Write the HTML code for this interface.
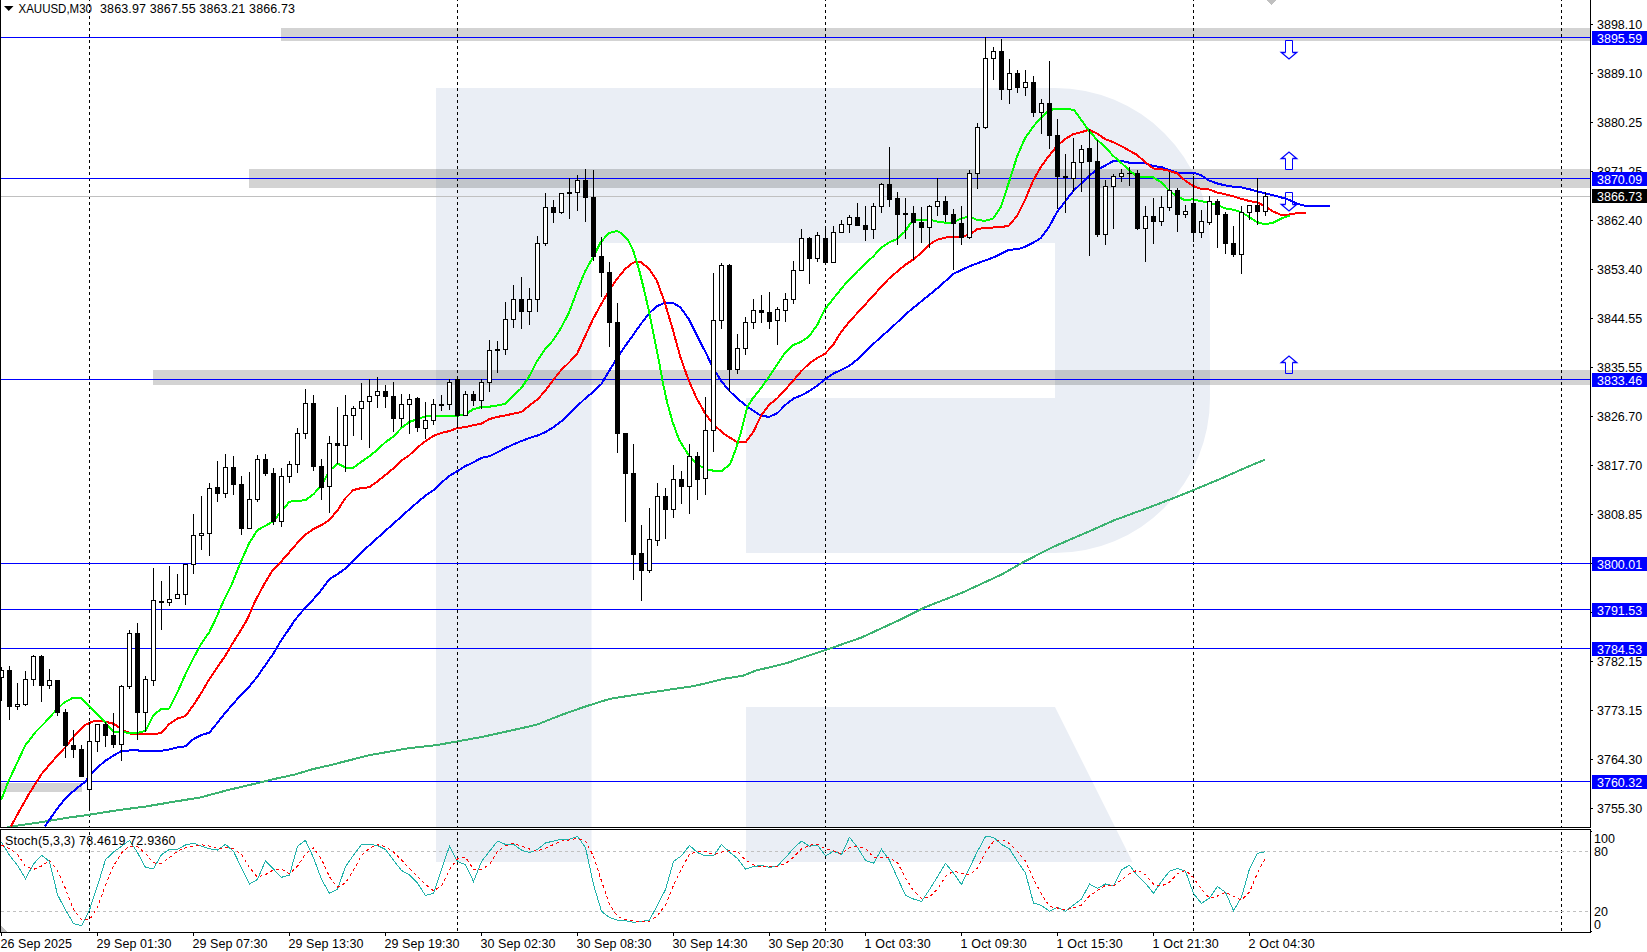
<!DOCTYPE html><html><head><meta charset="utf-8"><title>XAUUSD M30</title><style>html,body{margin:0;padding:0;background:#fff}body{width:1647px;height:952px;overflow:hidden}</style></head><body><svg width="1647" height="952" viewBox="0 0 1647 952" style="display:block;font-family:'Liberation Sans',sans-serif;font-size:12.5px">
<defs><clipPath id="cm"><rect x="1" y="0" width="1589" height="827"/></clipPath><clipPath id="ci"><rect x="1" y="830" width="1589" height="102"/></clipPath></defs>
<rect x="0" y="0" width="1647" height="952" fill="#fff"/>
<g fill="#eaeef5"><path d="M436,88 H1055 A155,155 0 0 1 1210,243 V398 A155,155 0 0 1 1055,553 H746 V398 H1055 V243 H591.5 V862 H436 Z"/><path d="M746,707 H1055 L1132.5,862 H746 Z"/></g>
<g shape-rendering="crispEdges">
<rect x="281" y="28" width="1309" height="13" fill="rgba(0,0,0,0.173)"/>
<rect x="249" y="169" width="1341" height="19" fill="rgba(0,0,0,0.173)"/>
<rect x="153" y="370" width="1437" height="15" fill="rgba(0,0,0,0.173)"/>
<rect x="1" y="783" width="81" height="9" fill="rgba(0,0,0,0.173)"/>
<path d="M1266,0 H1276 L1271,5 Z" fill="#c0c0c0"/>
<line x1="89.5" y1="0" x2="89.5" y2="932" stroke="#000" stroke-width="1" stroke-dasharray="3,3" stroke-dashoffset="2"/>
<line x1="457.5" y1="0" x2="457.5" y2="932" stroke="#000" stroke-width="1" stroke-dasharray="3,3" stroke-dashoffset="2"/>
<line x1="825.5" y1="0" x2="825.5" y2="932" stroke="#000" stroke-width="1" stroke-dasharray="3,3" stroke-dashoffset="2"/>
<line x1="1193.5" y1="0" x2="1193.5" y2="932" stroke="#000" stroke-width="1" stroke-dasharray="3,3" stroke-dashoffset="2"/>
<line x1="1561.5" y1="0" x2="1561.5" y2="932" stroke="#000" stroke-width="1" stroke-dasharray="3,3" stroke-dashoffset="2"/>
<rect x="1" y="196" width="1589" height="1" fill="#c0c0c0"/>
<rect x="1" y="37" width="1589" height="1" fill="#0000ff"/>
<rect x="1" y="178" width="1589" height="1" fill="#0000ff"/>
<rect x="1" y="379" width="1589" height="1" fill="#0000ff"/>
<rect x="1" y="563" width="1589" height="1" fill="#0000ff"/>
<rect x="1" y="609" width="1589" height="1" fill="#0000ff"/>
<rect x="1" y="648" width="1589" height="1" fill="#0000ff"/>
<rect x="1" y="781" width="1589" height="1" fill="#0000ff"/>
</g>
<g clip-path="url(#cm)" fill="none" stroke-width="2" stroke-linejoin="round" shape-rendering="crispEdges">
<polyline points="7.0,827.6 10.9,826.5 36.4,822.9 63.8,818.3 89.3,814.7 118.4,810.1 145.7,806.5 173.0,801.9 200.4,797.4 227.7,790.1 255.0,783.7 273.2,779.2 295.0,774.5 312.6,769.2 330.4,765.1 369.8,755.1 409.3,748.1 436.6,745.1 457.3,741.4 482.1,736.9 512.5,730.2 536.8,724.7 561.1,715.0 585.4,706.5 609.7,698.9 634.0,695.0 664.3,690.4 694.7,685.9 725.0,678.6 743.2,675.6 755.4,670.7 785.7,663.4 800.0,658.6 825.5,650.1 862.0,637.3 901.4,619.1 925.7,607.0 962.2,592.7 1001.6,574.5 1022.9,562.3 1053.2,546.9 1089.7,531.1 1113.9,520.4 1144.3,509.2 1174.7,497.7 1193.5,490.1 1220.2,478.9 1244.5,468.2 1264.8,459.7" stroke="#3cb371" />
<polyline points="44.8,826.6 56.8,809.1 65.6,798.1 75.4,789.4 85.2,781.7 94.0,770.8 104.9,761.0 113.7,755.5 121.3,751.1 131.1,750.3 145.4,750.7 161.7,750.7 169.4,749.4 177.5,747.4 185.4,746.3 193.4,739.1 201.1,735.2 209.4,732.6 217.5,722.7 225.1,712.9 232.8,704.2 240.4,695.4 249.2,686.7 256.8,677.3 265.6,664.8 273.2,653.9 280.9,640.8 288.5,629.8 295.1,619.8 305.6,607.2 313.7,598.9 321.3,590.1 329.4,579.2 337.5,574.2 345.6,568.3 353.4,560.6 360.0,553.6 412.4,506.6 425.5,495.6 433.4,490.2 441.5,482.5 449.3,476.0 457.4,471.1 465.3,466.1 473.4,462.4 481.5,457.8 489.3,456.3 497.4,452.3 505.3,448.2 513.4,444.3 521.5,441.0 529.3,438.1 537.4,435.5 545.3,432.2 553.4,427.2 561.3,421.3 569.3,413.7 577.2,406.0 585.3,398.4 593.2,391.8 601.3,384.2 609.1,371.0 617.2,357.9 625.3,345.9 633.2,334.9 640.5,324.5 648.8,313.6 656.6,306.3 664.5,303.0 672.9,302.7 680.6,307.6 688.5,318.6 696.9,335.5 705.4,351.9 714.3,370.2 721.3,381.1 729.4,391.0 737.5,398.6 745.4,405.2 753.4,410.7 761.5,416.0 769.3,416.8 777.6,413.0 785.5,404.8 793.4,398.6 801.5,395.4 809.4,391.0 817.5,385.5 825.4,379.0 833.4,373.5 841.5,369.8 849.4,365.8 857.5,359.3 865.6,351.6 873.4,344.0 881.5,336.3 889.4,329.8 897.5,322.1 905.3,314.5 913.2,308.0 921.2,301.4 929.3,294.9 937.3,288.3 945.3,281.2 953.4,273.8 961.2,270.2 969.3,266.3 977.4,263.3 985.3,260.4 993.4,257.4 1001.0,253.8 1009.0,249.6 1017.1,249.4 1025.0,246.8 1033.1,242.8 1040.9,238.0 1049.0,227.1 1057.0,212.0 1065.0,201.7 1073.0,191.3 1081.0,183.6 1089.0,175.6 1097.0,169.8 1105.0,165.7 1113.0,161.2 1121.0,160.7 1129.0,162.6 1137.0,162.7 1145.0,162.8 1153.0,166.2 1161.0,166.8 1169.0,170.0 1177.0,172.5 1193.0,172.6 1201.0,175.1 1209.0,180.4 1217.0,183.4 1225.0,185.4 1233.0,186.6 1241.0,187.3 1249.0,189.1 1257.0,191.3 1265.0,193.3 1273.0,195.3 1281.0,197.3 1289.0,199.9 1297.0,203.7 1305.8,206.0 1329.7,206.0" stroke="#0000ff" />
<polyline points="10.9,826.6 18.6,812.3 28.4,794.9 41.5,774.1 53.6,759.9 65.6,746.8 75.4,734.8 85.2,724.9 94.0,721.0 102.7,721.0 113.7,723.8 123.5,730.4 131.1,733.7 145.4,734.1 157.4,733.7 161.7,732.6 169.4,723.8 177.5,718.4 185.4,716.2 193.4,705.2 201.1,693.2 209.4,679.0 217.5,667.0 225.1,656.1 232.8,643.0 240.4,630.9 247.0,619.8 255.7,600.0 264.5,583.6 273.2,569.4 282.0,560.6 289.6,551.9 297.3,543.1 305.6,534.4 313.7,528.9 321.3,525.2 329.4,519.8 337.5,510.4 345.5,498.0 353.4,490.0 361.5,488.0 369.3,487.3 377.4,481.4 385.5,474.9 393.4,468.3 401.5,460.7 409.3,455.2 417.4,447.5 425.5,441.0 433.4,436.0 441.5,432.9 449.3,431.1 457.4,427.9 465.3,427.2 473.4,425.2 481.5,423.5 489.3,419.1 497.4,416.9 505.3,415.4 513.4,413.7 521.5,411.9 529.3,405.6 537.4,399.5 545.3,390.7 553.4,379.8 561.3,369.9 569.3,362.3 577.2,353.6 585.2,336.0 593.1,319.0 601.1,304.2 608.9,291.0 617.0,279.0 625.1,269.1 633.2,262.6 640.4,261.9 648.8,268.3 656.7,280.3 664.5,301.6 672.3,327.8 680.3,356.8 688.1,379.0 696.8,398.6 705.7,414.4 714.4,425.5 725.3,434.8 736.8,441.9 746.1,441.7 753.2,432.1 761.4,415.2 769.1,404.8 777.0,398.6 784.9,389.9 793.0,381.1 801.1,371.3 809.0,363.7 817.0,358.2 824.9,353.8 833.0,345.1 841.1,332.0 849.0,322.1 857.0,313.4 865.0,304.7 873.0,296.0 880.9,287.2 889.0,278.5 897.5,271.3 905.3,264.8 913.1,259.6 920.9,253.3 929.0,244.6 937.1,239.8 945.0,237.6 953.1,236.9 960.9,236.5 969.0,234.8 977.1,229.3 985.0,227.8 993.1,227.5 1001.0,227.3 1009.0,225.5 1017.0,215.9 1025.0,200.0 1033.0,181.0 1041.0,166.7 1049.0,155.8 1057.0,146.0 1065.0,139.2 1073.0,134.2 1081.0,132.3 1089.0,129.7 1097.0,133.6 1105.0,139.0 1113.0,142.1 1121.0,145.9 1129.0,150.4 1137.0,154.9 1145.0,161.9 1153.0,168.4 1161.0,169.1 1169.0,170.8 1177.0,173.3 1185.0,180.5 1193.0,185.9 1201.0,188.9 1209.0,189.4 1217.0,192.5 1225.0,194.2 1233.0,196.2 1241.0,198.8 1249.0,200.9 1257.0,202.4 1265.0,206.2 1273.0,211.4 1280.5,214.7 1289.0,214.5 1297.0,213.1 1305.9,213.1" stroke="#ff0000" />
<polyline points="1.0,800.3 8.3,781.7 16.4,764.3 25.1,745.7 35.0,732.6 44.8,722.7 54.6,711.8 63.4,703.1 73.2,697.6 80.9,697.6 89.6,706.3 97.3,714.0 105.4,722.7 113.2,731.5 121.3,731.9 129.4,733.0 137.3,733.0 145.4,731.0 153.4,715.1 161.5,709.0 169.4,708.5 177.5,692.1 185.8,673.6 193.4,658.3 201.1,644.0 209.4,632.0 215.3,619.8 223.0,602.2 231.7,584.7 240.4,562.8 249.2,543.1 257.5,530.0 265.6,525.7 273.2,521.3 282.0,510.4 289.6,501.6 297.3,501.0 305.6,500.1 313.7,494.0 321.3,485.2 329.4,471.0 337.5,463.4 345.6,467.7 353.4,467.7 361.5,461.7 369.3,456.3 377.4,449.7 385.5,442.1 393.4,436.6 401.5,427.9 409.3,422.0 417.4,419.1 425.5,416.5 433.4,415.8 457.0,415.8 465.0,414.8 473.0,409.3 481.0,407.1 489.1,406.7 497.0,405.6 505.0,403.8 513.0,396.2 521.0,388.5 529.1,376.5 537.0,361.2 545.1,349.2 553.0,340.4 561.0,328.0 568.9,312.8 577.0,291.0 585.1,271.3 593.0,257.1 601.0,241.8 608.9,233.1 617.0,230.9 621.1,233.1 627.7,239.6 633.2,250.5 638.6,268.0 644.1,290.0 649.6,314.0 654.2,337.4 658.6,359.3 663.0,383.3 667.3,403.0 672.8,422.7 679.3,440.2 689.5,456.4 697.1,464.5 705.8,468.9 714.6,471.0 722.2,470.6 729.9,464.5 735.4,450.3 740.8,432.8 744.0,420.5 747.1,407.4 752.6,398.6 761.3,387.7 769.0,376.8 777.0,364.8 784.9,352.7 793.0,345.1 801.1,341.8 809.0,336.3 817.0,325.4 824.9,309.3 833.0,299.0 841.1,289.0 849.0,279.6 857.1,271.5 865.0,263.7 873.1,256.6 880.9,248.0 889.0,242.4 897.1,239.1 905.0,231.5 913.1,219.5 920.9,219.5 929.0,219.5 937.1,221.6 945.0,222.7 953.1,222.7 960.9,218.5 969.0,216.4 977.1,220.0 985.0,220.8 993.1,218.6 1001.0,206.6 1009.0,182.0 1017.1,156.3 1025.0,138.3 1033.1,126.8 1041.0,117.5 1049.0,110.7 1054.0,109.0 1073.7,109.6 1081.1,119.7 1089.0,130.7 1097.0,139.9 1105.0,146.7 1113.0,155.7 1121.0,162.6 1129.0,170.1 1137.0,176.6 1145.0,177.1 1153.0,177.2 1161.0,182.2 1169.0,190.6 1177.0,196.3 1185.0,200.2 1193.0,199.3 1201.0,201.1 1209.0,203.1 1217.0,204.7 1225.0,208.3 1233.0,209.6 1241.0,212.1 1249.0,216.8 1257.0,222.1 1265.0,224.3 1273.0,222.7 1281.0,218.7 1289.8,215.4" stroke="#00ff00" />
</g>
<path d="M1285.5,52.5 V40.5 H1292.5 V52.5" fill="none" stroke="#0000ff" stroke-width="1"/>
<path d="M1285.5,52.5 H1281.3 L1289,58.9 L1296.7,52.5 H1292.5" fill="none" stroke="#0000ff" stroke-width="1.3" stroke-linejoin="miter"/>
<path d="M1285.5,158.5 V169.5 H1292.5 V158.5" fill="none" stroke="#0000ff" stroke-width="1"/>
<path d="M1285.5,158.5 H1281.3 L1289,152.1 L1296.7,158.5 H1292.5" fill="none" stroke="#0000ff" stroke-width="1.3" stroke-linejoin="miter"/>
<path d="M1285.5,204.5 V192.5 H1292.5 V204.5" fill="none" stroke="#0000ff" stroke-width="1"/>
<path d="M1285.5,204.5 H1281.3 L1289,210.9 L1296.7,204.5 H1292.5" fill="none" stroke="#0000ff" stroke-width="1.3" stroke-linejoin="miter"/>
<path d="M1285.5,362.5 V373.5 H1292.5 V362.5" fill="none" stroke="#0000ff" stroke-width="1"/>
<path d="M1285.5,362.5 H1281.3 L1289,356.1 L1296.7,362.5 H1292.5" fill="none" stroke="#0000ff" stroke-width="1.3" stroke-linejoin="miter"/>
<g clip-path="url(#cm)" shape-rendering="crispEdges">
<rect x="1" y="667" width="1" height="34" fill="#000"/>
<rect x="-1" y="670" width="5" height="8" fill="#000"/>
<rect x="0" y="671" width="3" height="6" fill="#fff"/>
<rect x="9" y="666" width="1" height="54" fill="#000"/>
<rect x="7" y="670" width="5" height="37" fill="#000"/>
<rect x="17" y="683" width="1" height="27" fill="#000"/>
<rect x="15" y="704" width="5" height="3" fill="#000"/>
<rect x="16" y="705" width="3" height="1" fill="#fff"/>
<rect x="25" y="671" width="1" height="35" fill="#000"/>
<rect x="23" y="679" width="5" height="26" fill="#000"/>
<rect x="24" y="680" width="3" height="24" fill="#fff"/>
<rect x="33" y="655" width="1" height="31" fill="#000"/>
<rect x="31" y="656" width="5" height="24" fill="#000"/>
<rect x="32" y="657" width="3" height="22" fill="#fff"/>
<rect x="41" y="655" width="1" height="47" fill="#000"/>
<rect x="39" y="656" width="5" height="30" fill="#000"/>
<rect x="49" y="669" width="1" height="20" fill="#000"/>
<rect x="47" y="680" width="5" height="6" fill="#000"/>
<rect x="48" y="681" width="3" height="4" fill="#fff"/>
<rect x="57" y="680" width="1" height="36" fill="#000"/>
<rect x="55" y="680" width="5" height="33" fill="#000"/>
<rect x="65" y="709" width="1" height="49" fill="#000"/>
<rect x="63" y="712" width="5" height="34" fill="#000"/>
<rect x="73" y="730" width="1" height="28" fill="#000"/>
<rect x="71" y="745" width="5" height="5" fill="#000"/>
<rect x="81" y="745" width="1" height="32" fill="#000"/>
<rect x="79" y="749" width="5" height="28" fill="#000"/>
<rect x="89" y="722" width="1" height="89" fill="#000"/>
<rect x="87" y="741" width="5" height="49" fill="#000"/>
<rect x="88" y="742" width="3" height="47" fill="#fff"/>
<rect x="97" y="724" width="1" height="28" fill="#000"/>
<rect x="95" y="724" width="5" height="18" fill="#000"/>
<rect x="96" y="725" width="3" height="16" fill="#fff"/>
<rect x="105" y="722" width="1" height="25" fill="#000"/>
<rect x="103" y="724" width="5" height="12" fill="#000"/>
<rect x="113" y="713" width="1" height="35" fill="#000"/>
<rect x="111" y="735" width="5" height="10" fill="#000"/>
<rect x="121" y="685" width="1" height="76" fill="#000"/>
<rect x="119" y="686" width="5" height="59" fill="#000"/>
<rect x="120" y="687" width="3" height="57" fill="#fff"/>
<rect x="129" y="630" width="1" height="59" fill="#000"/>
<rect x="127" y="633" width="5" height="54" fill="#000"/>
<rect x="128" y="634" width="3" height="52" fill="#fff"/>
<rect x="137" y="623" width="1" height="117" fill="#000"/>
<rect x="135" y="633" width="5" height="80" fill="#000"/>
<rect x="145" y="676" width="1" height="56" fill="#000"/>
<rect x="143" y="679" width="5" height="34" fill="#000"/>
<rect x="144" y="680" width="3" height="32" fill="#fff"/>
<rect x="153" y="568" width="1" height="118" fill="#000"/>
<rect x="151" y="600" width="5" height="81" fill="#000"/>
<rect x="152" y="601" width="3" height="79" fill="#fff"/>
<rect x="161" y="581" width="1" height="49" fill="#000"/>
<rect x="159" y="601" width="5" height="2" fill="#000"/>
<rect x="169" y="566" width="1" height="40" fill="#000"/>
<rect x="167" y="599" width="5" height="4" fill="#000"/>
<rect x="168" y="600" width="3" height="2" fill="#fff"/>
<rect x="177" y="574" width="1" height="25" fill="#000"/>
<rect x="175" y="594" width="5" height="5" fill="#000"/>
<rect x="176" y="595" width="3" height="3" fill="#fff"/>
<rect x="185" y="564" width="1" height="41" fill="#000"/>
<rect x="183" y="564" width="5" height="31" fill="#000"/>
<rect x="184" y="565" width="3" height="29" fill="#fff"/>
<rect x="193" y="514" width="1" height="60" fill="#000"/>
<rect x="191" y="535" width="5" height="30" fill="#000"/>
<rect x="192" y="536" width="3" height="28" fill="#fff"/>
<rect x="201" y="496" width="1" height="54" fill="#000"/>
<rect x="199" y="533" width="5" height="3" fill="#000"/>
<rect x="200" y="534" width="3" height="1" fill="#fff"/>
<rect x="209" y="483" width="1" height="73" fill="#000"/>
<rect x="207" y="488" width="5" height="46" fill="#000"/>
<rect x="208" y="489" width="3" height="44" fill="#fff"/>
<rect x="217" y="461" width="1" height="41" fill="#000"/>
<rect x="215" y="487" width="5" height="7" fill="#000"/>
<rect x="225" y="454" width="1" height="44" fill="#000"/>
<rect x="223" y="467" width="5" height="27" fill="#000"/>
<rect x="224" y="468" width="3" height="25" fill="#fff"/>
<rect x="233" y="456" width="1" height="39" fill="#000"/>
<rect x="231" y="467" width="5" height="18" fill="#000"/>
<rect x="241" y="476" width="1" height="59" fill="#000"/>
<rect x="239" y="484" width="5" height="45" fill="#000"/>
<rect x="249" y="472" width="1" height="57" fill="#000"/>
<rect x="247" y="499" width="5" height="30" fill="#000"/>
<rect x="248" y="500" width="3" height="28" fill="#fff"/>
<rect x="257" y="455" width="1" height="47" fill="#000"/>
<rect x="255" y="459" width="5" height="41" fill="#000"/>
<rect x="256" y="460" width="3" height="39" fill="#fff"/>
<rect x="265" y="454" width="1" height="22" fill="#000"/>
<rect x="263" y="459" width="5" height="15" fill="#000"/>
<rect x="273" y="468" width="1" height="57" fill="#000"/>
<rect x="271" y="473" width="5" height="49" fill="#000"/>
<rect x="281" y="468" width="1" height="59" fill="#000"/>
<rect x="279" y="476" width="5" height="46" fill="#000"/>
<rect x="280" y="477" width="3" height="44" fill="#fff"/>
<rect x="289" y="461" width="1" height="22" fill="#000"/>
<rect x="287" y="464" width="5" height="13" fill="#000"/>
<rect x="288" y="465" width="3" height="11" fill="#fff"/>
<rect x="297" y="428" width="1" height="45" fill="#000"/>
<rect x="295" y="433" width="5" height="32" fill="#000"/>
<rect x="296" y="434" width="3" height="30" fill="#fff"/>
<rect x="305" y="389" width="1" height="50" fill="#000"/>
<rect x="303" y="403" width="5" height="31" fill="#000"/>
<rect x="304" y="404" width="3" height="29" fill="#fff"/>
<rect x="313" y="395" width="1" height="76" fill="#000"/>
<rect x="311" y="403" width="5" height="64" fill="#000"/>
<rect x="321" y="459" width="1" height="41" fill="#000"/>
<rect x="319" y="466" width="5" height="22" fill="#000"/>
<rect x="329" y="436" width="1" height="77" fill="#000"/>
<rect x="327" y="443" width="5" height="44" fill="#000"/>
<rect x="328" y="444" width="3" height="42" fill="#fff"/>
<rect x="337" y="407" width="1" height="57" fill="#000"/>
<rect x="335" y="443" width="5" height="3" fill="#000"/>
<rect x="345" y="395" width="1" height="77" fill="#000"/>
<rect x="343" y="415" width="5" height="31" fill="#000"/>
<rect x="344" y="416" width="3" height="29" fill="#fff"/>
<rect x="353" y="406" width="1" height="30" fill="#000"/>
<rect x="351" y="408" width="5" height="8" fill="#000"/>
<rect x="352" y="409" width="3" height="6" fill="#fff"/>
<rect x="361" y="383" width="1" height="57" fill="#000"/>
<rect x="359" y="401" width="5" height="8" fill="#000"/>
<rect x="360" y="402" width="3" height="6" fill="#fff"/>
<rect x="369" y="379" width="1" height="69" fill="#000"/>
<rect x="367" y="396" width="5" height="6" fill="#000"/>
<rect x="368" y="397" width="3" height="4" fill="#fff"/>
<rect x="377" y="377" width="1" height="31" fill="#000"/>
<rect x="375" y="391" width="5" height="5" fill="#000"/>
<rect x="376" y="392" width="3" height="3" fill="#fff"/>
<rect x="385" y="385" width="1" height="23" fill="#000"/>
<rect x="383" y="391" width="5" height="6" fill="#000"/>
<rect x="393" y="382" width="1" height="50" fill="#000"/>
<rect x="391" y="396" width="5" height="23" fill="#000"/>
<rect x="401" y="394" width="1" height="33" fill="#000"/>
<rect x="399" y="404" width="5" height="15" fill="#000"/>
<rect x="400" y="405" width="3" height="13" fill="#fff"/>
<rect x="409" y="394" width="1" height="40" fill="#000"/>
<rect x="407" y="399" width="5" height="6" fill="#000"/>
<rect x="408" y="400" width="3" height="4" fill="#fff"/>
<rect x="417" y="397" width="1" height="35" fill="#000"/>
<rect x="415" y="398" width="5" height="30" fill="#000"/>
<rect x="425" y="402" width="1" height="37" fill="#000"/>
<rect x="423" y="420" width="5" height="9" fill="#000"/>
<rect x="424" y="421" width="3" height="7" fill="#fff"/>
<rect x="433" y="399" width="1" height="26" fill="#000"/>
<rect x="431" y="404" width="5" height="17" fill="#000"/>
<rect x="432" y="405" width="3" height="15" fill="#fff"/>
<rect x="441" y="395" width="1" height="16" fill="#000"/>
<rect x="439" y="404" width="5" height="2" fill="#000"/>
<rect x="449" y="379" width="1" height="31" fill="#000"/>
<rect x="447" y="382" width="5" height="23" fill="#000"/>
<rect x="448" y="383" width="3" height="21" fill="#fff"/>
<rect x="457" y="376" width="1" height="52" fill="#000"/>
<rect x="455" y="379" width="5" height="37" fill="#000"/>
<rect x="465" y="391" width="1" height="25" fill="#000"/>
<rect x="463" y="394" width="5" height="22" fill="#000"/>
<rect x="464" y="395" width="3" height="20" fill="#fff"/>
<rect x="473" y="391" width="1" height="15" fill="#000"/>
<rect x="471" y="394" width="5" height="7" fill="#000"/>
<rect x="481" y="379" width="1" height="30" fill="#000"/>
<rect x="479" y="382" width="5" height="19" fill="#000"/>
<rect x="480" y="383" width="3" height="17" fill="#fff"/>
<rect x="489" y="340" width="1" height="52" fill="#000"/>
<rect x="487" y="350" width="5" height="33" fill="#000"/>
<rect x="488" y="351" width="3" height="31" fill="#fff"/>
<rect x="497" y="341" width="1" height="32" fill="#000"/>
<rect x="495" y="349" width="5" height="2" fill="#000"/>
<rect x="505" y="302" width="1" height="53" fill="#000"/>
<rect x="503" y="319" width="5" height="31" fill="#000"/>
<rect x="504" y="320" width="3" height="29" fill="#fff"/>
<rect x="513" y="285" width="1" height="43" fill="#000"/>
<rect x="511" y="299" width="5" height="21" fill="#000"/>
<rect x="512" y="300" width="3" height="19" fill="#fff"/>
<rect x="521" y="277" width="1" height="52" fill="#000"/>
<rect x="519" y="299" width="5" height="13" fill="#000"/>
<rect x="529" y="288" width="1" height="37" fill="#000"/>
<rect x="527" y="299" width="5" height="13" fill="#000"/>
<rect x="528" y="300" width="3" height="11" fill="#fff"/>
<rect x="537" y="236" width="1" height="76" fill="#000"/>
<rect x="535" y="243" width="5" height="57" fill="#000"/>
<rect x="536" y="244" width="3" height="55" fill="#fff"/>
<rect x="545" y="193" width="1" height="53" fill="#000"/>
<rect x="543" y="207" width="5" height="37" fill="#000"/>
<rect x="544" y="208" width="3" height="35" fill="#fff"/>
<rect x="553" y="200" width="1" height="23" fill="#000"/>
<rect x="551" y="207" width="5" height="6" fill="#000"/>
<rect x="561" y="193" width="1" height="21" fill="#000"/>
<rect x="559" y="193" width="5" height="20" fill="#000"/>
<rect x="560" y="194" width="3" height="18" fill="#fff"/>
<rect x="569" y="178" width="1" height="41" fill="#000"/>
<rect x="567" y="192" width="5" height="2" fill="#000"/>
<rect x="577" y="175" width="1" height="36" fill="#000"/>
<rect x="575" y="180" width="5" height="13" fill="#000"/>
<rect x="576" y="181" width="3" height="11" fill="#fff"/>
<rect x="585" y="169" width="1" height="53" fill="#000"/>
<rect x="583" y="180" width="5" height="18" fill="#000"/>
<rect x="593" y="170" width="1" height="91" fill="#000"/>
<rect x="591" y="197" width="5" height="60" fill="#000"/>
<rect x="601" y="237" width="1" height="60" fill="#000"/>
<rect x="599" y="256" width="5" height="17" fill="#000"/>
<rect x="609" y="262" width="1" height="85" fill="#000"/>
<rect x="607" y="272" width="5" height="51" fill="#000"/>
<rect x="617" y="303" width="1" height="150" fill="#000"/>
<rect x="615" y="322" width="5" height="112" fill="#000"/>
<rect x="625" y="433" width="1" height="89" fill="#000"/>
<rect x="623" y="433" width="5" height="41" fill="#000"/>
<rect x="633" y="444" width="1" height="136" fill="#000"/>
<rect x="631" y="473" width="5" height="82" fill="#000"/>
<rect x="641" y="525" width="1" height="76" fill="#000"/>
<rect x="639" y="553" width="5" height="18" fill="#000"/>
<rect x="649" y="508" width="1" height="65" fill="#000"/>
<rect x="647" y="539" width="5" height="32" fill="#000"/>
<rect x="648" y="540" width="3" height="30" fill="#fff"/>
<rect x="657" y="483" width="1" height="63" fill="#000"/>
<rect x="655" y="496" width="5" height="45" fill="#000"/>
<rect x="656" y="497" width="3" height="43" fill="#fff"/>
<rect x="665" y="488" width="1" height="51" fill="#000"/>
<rect x="663" y="496" width="5" height="14" fill="#000"/>
<rect x="673" y="465" width="1" height="53" fill="#000"/>
<rect x="671" y="479" width="5" height="31" fill="#000"/>
<rect x="672" y="480" width="3" height="29" fill="#fff"/>
<rect x="681" y="471" width="1" height="33" fill="#000"/>
<rect x="679" y="479" width="5" height="8" fill="#000"/>
<rect x="689" y="444" width="1" height="70" fill="#000"/>
<rect x="687" y="456" width="5" height="31" fill="#000"/>
<rect x="688" y="457" width="3" height="29" fill="#fff"/>
<rect x="697" y="452" width="1" height="48" fill="#000"/>
<rect x="695" y="456" width="5" height="24" fill="#000"/>
<rect x="705" y="397" width="1" height="98" fill="#000"/>
<rect x="703" y="430" width="5" height="49" fill="#000"/>
<rect x="704" y="431" width="3" height="47" fill="#fff"/>
<rect x="713" y="273" width="1" height="179" fill="#000"/>
<rect x="711" y="320" width="5" height="111" fill="#000"/>
<rect x="712" y="321" width="3" height="109" fill="#fff"/>
<rect x="721" y="263" width="1" height="66" fill="#000"/>
<rect x="719" y="265" width="5" height="56" fill="#000"/>
<rect x="720" y="266" width="3" height="54" fill="#fff"/>
<rect x="729" y="264" width="1" height="128" fill="#000"/>
<rect x="727" y="265" width="5" height="105" fill="#000"/>
<rect x="737" y="334" width="1" height="40" fill="#000"/>
<rect x="735" y="348" width="5" height="22" fill="#000"/>
<rect x="736" y="349" width="3" height="20" fill="#fff"/>
<rect x="745" y="317" width="1" height="38" fill="#000"/>
<rect x="743" y="322" width="5" height="27" fill="#000"/>
<rect x="744" y="323" width="3" height="25" fill="#fff"/>
<rect x="753" y="299" width="1" height="30" fill="#000"/>
<rect x="751" y="310" width="5" height="13" fill="#000"/>
<rect x="752" y="311" width="3" height="11" fill="#fff"/>
<rect x="761" y="295" width="1" height="28" fill="#000"/>
<rect x="759" y="310" width="5" height="3" fill="#000"/>
<rect x="769" y="292" width="1" height="37" fill="#000"/>
<rect x="767" y="312" width="5" height="10" fill="#000"/>
<rect x="777" y="307" width="1" height="38" fill="#000"/>
<rect x="775" y="309" width="5" height="12" fill="#000"/>
<rect x="776" y="310" width="3" height="10" fill="#fff"/>
<rect x="785" y="293" width="1" height="29" fill="#000"/>
<rect x="783" y="299" width="5" height="12" fill="#000"/>
<rect x="784" y="300" width="3" height="10" fill="#fff"/>
<rect x="793" y="261" width="1" height="43" fill="#000"/>
<rect x="791" y="270" width="5" height="30" fill="#000"/>
<rect x="792" y="271" width="3" height="28" fill="#fff"/>
<rect x="801" y="229" width="1" height="42" fill="#000"/>
<rect x="799" y="238" width="5" height="33" fill="#000"/>
<rect x="800" y="239" width="3" height="31" fill="#fff"/>
<rect x="809" y="237" width="1" height="47" fill="#000"/>
<rect x="807" y="238" width="5" height="21" fill="#000"/>
<rect x="817" y="232" width="1" height="30" fill="#000"/>
<rect x="815" y="235" width="5" height="24" fill="#000"/>
<rect x="816" y="236" width="3" height="22" fill="#fff"/>
<rect x="825" y="226" width="1" height="37" fill="#000"/>
<rect x="823" y="238" width="5" height="25" fill="#000"/>
<rect x="833" y="226" width="1" height="37" fill="#000"/>
<rect x="831" y="232" width="5" height="31" fill="#000"/>
<rect x="832" y="233" width="3" height="29" fill="#fff"/>
<rect x="841" y="220" width="1" height="13" fill="#000"/>
<rect x="839" y="224" width="5" height="9" fill="#000"/>
<rect x="840" y="225" width="3" height="7" fill="#fff"/>
<rect x="849" y="215" width="1" height="18" fill="#000"/>
<rect x="847" y="217" width="5" height="8" fill="#000"/>
<rect x="848" y="218" width="3" height="6" fill="#fff"/>
<rect x="857" y="203" width="1" height="23" fill="#000"/>
<rect x="855" y="217" width="5" height="9" fill="#000"/>
<rect x="865" y="206" width="1" height="35" fill="#000"/>
<rect x="863" y="225" width="5" height="5" fill="#000"/>
<rect x="873" y="203" width="1" height="36" fill="#000"/>
<rect x="871" y="206" width="5" height="24" fill="#000"/>
<rect x="872" y="207" width="3" height="22" fill="#fff"/>
<rect x="881" y="183" width="1" height="30" fill="#000"/>
<rect x="879" y="184" width="5" height="23" fill="#000"/>
<rect x="880" y="185" width="3" height="21" fill="#fff"/>
<rect x="889" y="147" width="1" height="60" fill="#000"/>
<rect x="887" y="184" width="5" height="16" fill="#000"/>
<rect x="897" y="192" width="1" height="53" fill="#000"/>
<rect x="895" y="198" width="5" height="17" fill="#000"/>
<rect x="905" y="198" width="1" height="41" fill="#000"/>
<rect x="903" y="213" width="5" height="2" fill="#000"/>
<rect x="913" y="206" width="1" height="54" fill="#000"/>
<rect x="911" y="213" width="5" height="10" fill="#000"/>
<rect x="921" y="207" width="1" height="36" fill="#000"/>
<rect x="919" y="222" width="5" height="6" fill="#000"/>
<rect x="929" y="205" width="1" height="43" fill="#000"/>
<rect x="927" y="206" width="5" height="22" fill="#000"/>
<rect x="928" y="207" width="3" height="20" fill="#fff"/>
<rect x="937" y="178" width="1" height="38" fill="#000"/>
<rect x="935" y="201" width="5" height="6" fill="#000"/>
<rect x="936" y="202" width="3" height="4" fill="#fff"/>
<rect x="945" y="196" width="1" height="26" fill="#000"/>
<rect x="943" y="201" width="5" height="14" fill="#000"/>
<rect x="953" y="209" width="1" height="61" fill="#000"/>
<rect x="951" y="214" width="5" height="10" fill="#000"/>
<rect x="961" y="206" width="1" height="39" fill="#000"/>
<rect x="959" y="223" width="5" height="15" fill="#000"/>
<rect x="969" y="170" width="1" height="69" fill="#000"/>
<rect x="967" y="173" width="5" height="65" fill="#000"/>
<rect x="968" y="174" width="3" height="63" fill="#fff"/>
<rect x="977" y="123" width="1" height="66" fill="#000"/>
<rect x="975" y="127" width="5" height="47" fill="#000"/>
<rect x="976" y="128" width="3" height="45" fill="#fff"/>
<rect x="985" y="37" width="1" height="92" fill="#000"/>
<rect x="983" y="58" width="5" height="70" fill="#000"/>
<rect x="984" y="59" width="3" height="68" fill="#fff"/>
<rect x="993" y="47" width="1" height="33" fill="#000"/>
<rect x="991" y="51" width="5" height="8" fill="#000"/>
<rect x="992" y="52" width="3" height="6" fill="#fff"/>
<rect x="1001" y="39" width="1" height="61" fill="#000"/>
<rect x="999" y="51" width="5" height="39" fill="#000"/>
<rect x="1009" y="59" width="1" height="45" fill="#000"/>
<rect x="1007" y="73" width="5" height="17" fill="#000"/>
<rect x="1008" y="74" width="3" height="15" fill="#fff"/>
<rect x="1017" y="70" width="1" height="23" fill="#000"/>
<rect x="1015" y="73" width="5" height="15" fill="#000"/>
<rect x="1025" y="70" width="1" height="26" fill="#000"/>
<rect x="1023" y="82" width="5" height="6" fill="#000"/>
<rect x="1024" y="83" width="3" height="4" fill="#fff"/>
<rect x="1033" y="76" width="1" height="41" fill="#000"/>
<rect x="1031" y="82" width="5" height="31" fill="#000"/>
<rect x="1041" y="99" width="1" height="35" fill="#000"/>
<rect x="1039" y="103" width="5" height="10" fill="#000"/>
<rect x="1040" y="104" width="3" height="8" fill="#fff"/>
<rect x="1049" y="61" width="1" height="88" fill="#000"/>
<rect x="1047" y="103" width="5" height="33" fill="#000"/>
<rect x="1057" y="119" width="1" height="90" fill="#000"/>
<rect x="1055" y="135" width="5" height="42" fill="#000"/>
<rect x="1065" y="154" width="1" height="59" fill="#000"/>
<rect x="1063" y="176" width="5" height="2" fill="#000"/>
<rect x="1073" y="138" width="1" height="54" fill="#000"/>
<rect x="1071" y="162" width="5" height="17" fill="#000"/>
<rect x="1072" y="163" width="3" height="15" fill="#fff"/>
<rect x="1081" y="145" width="1" height="47" fill="#000"/>
<rect x="1079" y="149" width="5" height="14" fill="#000"/>
<rect x="1080" y="150" width="3" height="12" fill="#fff"/>
<rect x="1089" y="129" width="1" height="127" fill="#000"/>
<rect x="1087" y="148" width="5" height="14" fill="#000"/>
<rect x="1097" y="140" width="1" height="97" fill="#000"/>
<rect x="1095" y="161" width="5" height="74" fill="#000"/>
<rect x="1105" y="180" width="1" height="65" fill="#000"/>
<rect x="1103" y="186" width="5" height="49" fill="#000"/>
<rect x="1104" y="187" width="3" height="47" fill="#fff"/>
<rect x="1113" y="174" width="1" height="55" fill="#000"/>
<rect x="1111" y="176" width="5" height="11" fill="#000"/>
<rect x="1112" y="177" width="3" height="9" fill="#fff"/>
<rect x="1121" y="169" width="1" height="13" fill="#000"/>
<rect x="1119" y="173" width="5" height="4" fill="#000"/>
<rect x="1120" y="174" width="3" height="2" fill="#fff"/>
<rect x="1129" y="167" width="1" height="19" fill="#000"/>
<rect x="1127" y="173" width="5" height="1" fill="#000"/>
<rect x="1137" y="170" width="1" height="60" fill="#000"/>
<rect x="1135" y="173" width="5" height="56" fill="#000"/>
<rect x="1145" y="206" width="1" height="56" fill="#000"/>
<rect x="1143" y="216" width="5" height="13" fill="#000"/>
<rect x="1144" y="217" width="3" height="11" fill="#fff"/>
<rect x="1153" y="198" width="1" height="46" fill="#000"/>
<rect x="1151" y="216" width="5" height="6" fill="#000"/>
<rect x="1161" y="196" width="1" height="30" fill="#000"/>
<rect x="1159" y="207" width="5" height="15" fill="#000"/>
<rect x="1160" y="208" width="3" height="13" fill="#fff"/>
<rect x="1169" y="172" width="1" height="39" fill="#000"/>
<rect x="1167" y="190" width="5" height="18" fill="#000"/>
<rect x="1168" y="191" width="3" height="16" fill="#fff"/>
<rect x="1177" y="188" width="1" height="44" fill="#000"/>
<rect x="1175" y="190" width="5" height="25" fill="#000"/>
<rect x="1185" y="205" width="1" height="13" fill="#000"/>
<rect x="1183" y="211" width="5" height="4" fill="#000"/>
<rect x="1184" y="212" width="3" height="2" fill="#fff"/>
<rect x="1193" y="176" width="1" height="66" fill="#000"/>
<rect x="1191" y="203" width="5" height="30" fill="#000"/>
<rect x="1201" y="210" width="1" height="28" fill="#000"/>
<rect x="1199" y="221" width="5" height="12" fill="#000"/>
<rect x="1200" y="222" width="3" height="10" fill="#fff"/>
<rect x="1209" y="196" width="1" height="29" fill="#000"/>
<rect x="1207" y="201" width="5" height="22" fill="#000"/>
<rect x="1208" y="202" width="3" height="20" fill="#fff"/>
<rect x="1217" y="199" width="1" height="49" fill="#000"/>
<rect x="1215" y="201" width="5" height="14" fill="#000"/>
<rect x="1225" y="212" width="1" height="42" fill="#000"/>
<rect x="1223" y="214" width="5" height="30" fill="#000"/>
<rect x="1233" y="226" width="1" height="31" fill="#000"/>
<rect x="1231" y="243" width="5" height="12" fill="#000"/>
<rect x="1241" y="206" width="1" height="68" fill="#000"/>
<rect x="1239" y="212" width="5" height="43" fill="#000"/>
<rect x="1240" y="213" width="3" height="41" fill="#fff"/>
<rect x="1249" y="205" width="1" height="15" fill="#000"/>
<rect x="1247" y="205" width="5" height="8" fill="#000"/>
<rect x="1248" y="206" width="3" height="6" fill="#fff"/>
<rect x="1257" y="178" width="1" height="47" fill="#000"/>
<rect x="1255" y="205" width="5" height="7" fill="#000"/>
<rect x="1265" y="192" width="1" height="24" fill="#000"/>
<rect x="1263" y="196" width="5" height="16" fill="#000"/>
<rect x="1264" y="197" width="3" height="14" fill="#fff"/>
</g>
<g clip-path="url(#ci)" fill="none" stroke-width="1">
<g shape-rendering="crispEdges">
<line x1="1" y1="851.5" x2="1590" y2="851.5" stroke="#c0c0c0" stroke-dasharray="3,3"/>
<line x1="1" y1="911.5" x2="1590" y2="911.5" stroke="#c0c0c0" stroke-dasharray="3,3"/>
</g>
<polyline points="1.5,842.4 9.5,855.2 17.5,865.4 25.5,878.6 33.5,864.1 41.5,855.2 49.5,861.5 57.5,894.7 65.5,910.0 73.5,923.5 81.5,925.8 89.5,910.0 97.5,885.8 105.5,859.7 113.5,852.1 121.5,846.2 129.5,840.4 137.5,852.6 145.5,867.4 153.5,868.7 161.5,854.6 169.5,849.3 177.5,849.3 185.5,845.0 193.5,843.2 201.5,846.2 209.5,848.8 217.5,850.1 225.5,844.4 233.5,851.3 241.5,867.9 249.5,884.0 257.5,879.4 265.5,860.8 273.5,869.2 281.5,877.3 289.5,875.0 297.5,846.2 305.5,840.4 313.5,857.7 321.5,879.4 329.5,893.4 337.5,889.1 345.5,866.6 353.5,855.2 361.5,844.4 369.5,844.4 377.5,845.5 385.5,849.5 393.5,860.3 401.5,870.5 409.5,874.9 417.5,883.2 425.5,895.5 433.5,893.4 441.5,869.2 449.5,846.2 457.5,861.5 465.5,864.6 473.5,881.4 481.5,861.5 489.5,851.3 497.5,841.1 505.5,844.4 513.5,844.4 521.5,850.1 529.5,852.6 537.5,849.5 545.5,842.9 553.5,841.1 561.5,839.3 569.5,839.3 577.5,836.5 585.5,847.5 593.5,884.5 601.5,911.3 609.5,917.6 617.5,920.2 625.5,920.7 633.5,922.2 641.5,921.5 649.5,920.2 657.5,904.9 665.5,889.6 673.5,861.5 681.5,855.7 689.5,845.5 697.5,852.6 705.5,855.9 713.5,855.9 721.5,844.4 729.5,852.1 737.5,858.5 745.5,869.2 753.5,866.6 761.5,865.4 769.5,867.4 777.5,865.9 785.5,857.7 793.5,848.3 801.5,841.1 809.5,846.2 817.5,845.0 825.5,855.9 833.5,851.3 841.5,854.6 849.5,837.3 857.5,847.5 865.5,860.3 873.5,863.3 881.5,849.3 889.5,860.3 897.5,878.1 905.5,895.2 913.5,899.0 921.5,901.6 929.5,889.6 937.5,876.8 945.5,863.3 953.5,873.0 961.5,884.5 969.5,867.9 977.5,851.3 985.5,836.5 993.5,837.3 1001.5,844.4 1009.5,848.8 1017.5,861.5 1025.5,873.0 1033.5,903.1 1041.5,905.4 1049.5,911.3 1057.5,907.4 1065.5,911.3 1073.5,904.9 1081.5,899.0 1089.5,884.0 1097.5,888.3 1105.5,884.0 1113.5,885.8 1121.5,869.7 1129.5,865.4 1137.5,875.6 1145.5,883.2 1153.5,893.4 1161.5,881.4 1169.5,871.2 1177.5,868.4 1185.5,871.3 1193.5,893.5 1201.5,903.5 1209.5,898.0 1217.5,886.5 1225.5,892.3 1233.5,910.7 1241.5,897.1 1249.5,868.8 1257.5,853.2 1265.5,851.8" stroke="#20b2aa" shape-rendering="crispEdges"/>
<polyline points="1.5,845.0 9.5,848.8 17.5,854.3 25.5,866.4 33.5,869.4 41.5,866.0 49.5,860.3 57.5,870.5 65.5,888.7 73.5,909.4 81.5,919.8 89.5,919.8 97.5,907.2 105.5,885.2 113.5,865.9 121.5,852.7 129.5,846.2 137.5,846.4 145.5,853.5 153.5,862.9 161.5,863.6 169.5,857.5 177.5,851.1 185.5,847.9 193.5,845.8 201.5,844.8 209.5,846.1 217.5,848.4 225.5,847.8 233.5,848.6 241.5,854.5 249.5,867.7 257.5,877.1 265.5,874.7 273.5,869.8 281.5,869.1 289.5,873.8 297.5,866.2 305.5,853.9 313.5,848.1 321.5,859.2 329.5,876.8 337.5,887.3 345.5,883.0 353.5,870.3 361.5,855.4 369.5,848.0 377.5,844.8 385.5,846.5 393.5,851.8 401.5,860.1 409.5,868.6 417.5,876.2 425.5,884.5 433.5,890.7 441.5,886.0 449.5,869.6 457.5,859.0 465.5,857.4 473.5,869.2 481.5,869.2 489.5,864.7 497.5,851.3 505.5,845.6 513.5,843.3 521.5,846.3 529.5,849.0 537.5,850.7 545.5,848.3 553.5,844.5 561.5,841.1 569.5,839.9 577.5,838.4 585.5,841.1 593.5,856.2 601.5,881.1 609.5,904.5 617.5,916.4 625.5,919.5 633.5,921.0 641.5,921.5 649.5,921.3 657.5,915.5 665.5,904.9 673.5,885.3 681.5,868.9 689.5,854.2 697.5,851.3 705.5,851.3 713.5,854.8 721.5,852.1 729.5,850.8 737.5,851.7 745.5,859.9 753.5,864.8 761.5,867.1 769.5,866.5 777.5,866.2 785.5,863.7 793.5,857.3 801.5,849.0 809.5,845.2 817.5,844.1 825.5,849.0 833.5,850.7 841.5,853.9 849.5,847.7 857.5,846.5 865.5,848.4 873.5,857.0 881.5,857.6 889.5,857.6 897.5,862.6 905.5,877.9 913.5,890.8 921.5,898.6 929.5,896.7 937.5,889.3 945.5,876.6 953.5,871.0 961.5,873.6 969.5,875.1 977.5,867.9 985.5,851.9 993.5,841.7 1001.5,839.4 1009.5,843.5 1017.5,851.6 1025.5,861.1 1033.5,879.2 1041.5,893.8 1049.5,906.6 1057.5,908.0 1065.5,910.0 1073.5,907.9 1081.5,905.1 1089.5,896.0 1097.5,890.4 1105.5,885.4 1113.5,886.0 1121.5,879.8 1129.5,873.6 1137.5,870.2 1145.5,874.7 1153.5,884.1 1161.5,886.0 1169.5,882.0 1177.5,873.7 1185.5,870.3 1193.5,877.7 1201.5,889.4 1209.5,898.3 1217.5,896.0 1225.5,892.3 1233.5,896.5 1241.5,900.0 1249.5,892.2 1257.5,873.0 1265.5,857.9" stroke="#ff0000" stroke-dasharray="3,3" shape-rendering="crispEdges"/>
</g>
<g shape-rendering="crispEdges">
<path d="M1,926 V932 H7 Z" fill="#c0c0c0"/>
<rect x="0" y="0" width="1" height="933" fill="#000"/>
<rect x="1590" y="0" width="1" height="828" fill="#000"/>
<rect x="0" y="827" width="1591" height="1" fill="#000"/>
<rect x="0" y="828" width="1647" height="1" fill="#fff"/>
<rect x="0" y="829" width="1591" height="1" fill="#000"/>
<rect x="1590" y="829" width="1" height="104" fill="#000"/>
<rect x="0" y="932" width="1591" height="1" fill="#000"/>
<rect x="1591" y="831" width="1" height="1" fill="#000"/>
<rect x="1591" y="931" width="1" height="1" fill="#000"/>
<rect x="1591" y="24" width="2" height="1" fill="#000"/>
<rect x="1591" y="73" width="2" height="1" fill="#000"/>
<rect x="1591" y="122" width="2" height="1" fill="#000"/>
<rect x="1591" y="171" width="2" height="1" fill="#000"/>
<rect x="1591" y="220" width="2" height="1" fill="#000"/>
<rect x="1591" y="269" width="2" height="1" fill="#000"/>
<rect x="1591" y="318" width="2" height="1" fill="#000"/>
<rect x="1591" y="367" width="2" height="1" fill="#000"/>
<rect x="1591" y="416" width="2" height="1" fill="#000"/>
<rect x="1591" y="465" width="2" height="1" fill="#000"/>
<rect x="1591" y="514" width="2" height="1" fill="#000"/>
<rect x="1591" y="563" width="2" height="1" fill="#000"/>
<rect x="1591" y="612" width="2" height="1" fill="#000"/>
<rect x="1591" y="661" width="2" height="1" fill="#000"/>
<rect x="1591" y="710" width="2" height="1" fill="#000"/>
<rect x="1591" y="759" width="2" height="1" fill="#000"/>
<rect x="1591" y="808" width="2" height="1" fill="#000"/>
<rect x="1" y="933" width="1" height="3" fill="#000"/>
<rect x="97" y="933" width="1" height="3" fill="#000"/>
<rect x="193" y="933" width="1" height="3" fill="#000"/>
<rect x="289" y="933" width="1" height="3" fill="#000"/>
<rect x="385" y="933" width="1" height="3" fill="#000"/>
<rect x="481" y="933" width="1" height="3" fill="#000"/>
<rect x="577" y="933" width="1" height="3" fill="#000"/>
<rect x="673" y="933" width="1" height="3" fill="#000"/>
<rect x="769" y="933" width="1" height="3" fill="#000"/>
<rect x="865" y="933" width="1" height="3" fill="#000"/>
<rect x="961" y="933" width="1" height="3" fill="#000"/>
<rect x="1057" y="933" width="1" height="3" fill="#000"/>
<rect x="1153" y="933" width="1" height="3" fill="#000"/>
<rect x="1249" y="933" width="1" height="3" fill="#000"/>
</g>
<text x="1597" y="29" fill="#000">3898.10</text>
<text x="1597" y="78" fill="#000">3889.10</text>
<text x="1597" y="127" fill="#000">3880.25</text>
<text x="1597" y="176" fill="#000">3871.25</text>
<text x="1597" y="225" fill="#000">3862.40</text>
<text x="1597" y="274" fill="#000">3853.40</text>
<text x="1597" y="323" fill="#000">3844.55</text>
<text x="1597" y="372" fill="#000">3835.55</text>
<text x="1597" y="421" fill="#000">3826.70</text>
<text x="1597" y="470" fill="#000">3817.70</text>
<text x="1597" y="519" fill="#000">3808.85</text>
<text x="1597" y="568" fill="#000">3799.85</text>
<text x="1597" y="617" fill="#000">3791.00</text>
<text x="1597" y="666" fill="#000">3782.15</text>
<text x="1597" y="715" fill="#000">3773.15</text>
<text x="1597" y="764" fill="#000">3764.30</text>
<text x="1597" y="813" fill="#000">3755.30</text>
<text x="0.5" y="948" fill="#000" style="letter-spacing:0.05px">26 Sep 2025</text>
<text x="96.5" y="948" fill="#000" style="letter-spacing:0.05px">29 Sep 01:30</text>
<text x="192.5" y="948" fill="#000" style="letter-spacing:0.05px">29 Sep 07:30</text>
<text x="288.5" y="948" fill="#000" style="letter-spacing:0.05px">29 Sep 13:30</text>
<text x="384.5" y="948" fill="#000" style="letter-spacing:0.05px">29 Sep 19:30</text>
<text x="480.5" y="948" fill="#000" style="letter-spacing:0.05px">30 Sep 02:30</text>
<text x="576.5" y="948" fill="#000" style="letter-spacing:0.05px">30 Sep 08:30</text>
<text x="672.5" y="948" fill="#000" style="letter-spacing:0.05px">30 Sep 14:30</text>
<text x="768.5" y="948" fill="#000" style="letter-spacing:0.05px">30 Sep 20:30</text>
<text x="864.5" y="948" fill="#000" style="letter-spacing:0.17px">1 Oct 03:30</text>
<text x="960.5" y="948" fill="#000" style="letter-spacing:0.17px">1 Oct 09:30</text>
<text x="1056.5" y="948" fill="#000" style="letter-spacing:0.17px">1 Oct 15:30</text>
<text x="1152.5" y="948" fill="#000" style="letter-spacing:0.17px">1 Oct 21:30</text>
<text x="1248.5" y="948" fill="#000" style="letter-spacing:0.17px">2 Oct 04:30</text>
<g shape-rendering="crispEdges">
<rect x="1592" y="31" width="55" height="14" fill="#0000ff"/>
<rect x="1592" y="172" width="55" height="14" fill="#0000ff"/>
<rect x="1592" y="373" width="55" height="14" fill="#0000ff"/>
<rect x="1592" y="557" width="55" height="14" fill="#0000ff"/>
<rect x="1592" y="603" width="55" height="14" fill="#0000ff"/>
<rect x="1592" y="642" width="55" height="14" fill="#0000ff"/>
<rect x="1592" y="775" width="55" height="14" fill="#0000ff"/>
<rect x="1592" y="189" width="55" height="14" fill="#000"/>
</g>
<text x="1597" y="43" fill="#fff">3895.59</text>
<text x="1597" y="184" fill="#fff">3870.09</text>
<text x="1597" y="385" fill="#fff">3833.46</text>
<text x="1597" y="569" fill="#fff">3800.01</text>
<text x="1597" y="615" fill="#fff">3791.53</text>
<text x="1597" y="654" fill="#fff">3784.53</text>
<text x="1597" y="787" fill="#fff">3760.32</text>
<text x="1597" y="201" fill="#fff">3866.73</text>
<path d="M4,6 H13.5 L8.75,11 Z" fill="#000"/>
<text x="18.5" y="13" fill="#000" textLength="73.5" lengthAdjust="spacingAndGlyphs">XAUUSD,M30</text>
<text x="100" y="13" fill="#000" textLength="195" lengthAdjust="spacing">3863.97 3867.55 3863.21 3866.73</text>
<text x="5" y="845" fill="#000" textLength="170.5" lengthAdjust="spacing">Stoch(5,3,3) 78.4619 72.9360</text>
<text x="1594" y="843" fill="#000">100</text>
<text x="1594" y="856" fill="#000">80</text>
<text x="1594" y="916" fill="#000">20</text>
<text x="1594" y="929" fill="#000">0</text>
</svg></body></html>
